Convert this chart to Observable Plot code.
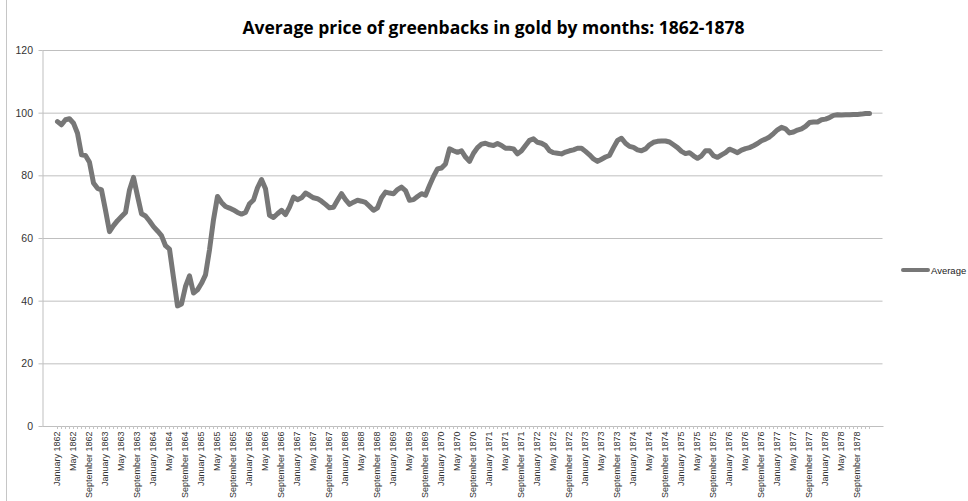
<!DOCTYPE html>
<html>
<head>
<meta charset="utf-8">
<script src="https://cdn.jsdelivr.net/npm/d3@7"></script>
<script src="https://cdn.jsdelivr.net/npm/@observablehq/plot@0.6"></script>
<style>
  body { margin: 0; background: #fff; }
  #wrap { position: relative; width: 968px; height: 501px; overflow: hidden; background: #fff; }
  #chart { position: absolute; left: 0; top: 0; }
  #title { position: absolute; left: 0; top: 15px; width: 987px; text-align: center;
           font: bold 17.5px "Open Sans", sans-serif; color: #000; white-space: nowrap; }
  #border { position: absolute; left: 6px; top: 0; width: 1px; height: 501px; background: #c6c6c6; }
  #legend { position: absolute; left: 901px; top: 262px; height: 16px; display: flex; align-items: center;
            font: 9.5px "Liberation Sans", sans-serif; color: #222; }
  #legend .sw { width: 29px; height: 4.5px; background: #777; border-radius: 2px; margin-right: 1px; }
</style>
</head>
<body>
<div id="wrap">
  <div id="border"></div>
  <div id="chart"></div>
  <div id="title">Average price of greenbacks in gold by months: 1862-1878</div>
  <div id="legend"><div class="sw"></div><span>Average</span></div>
</div>
<script>
const monthNames = ["January","February","March","April","May","June","July","August","September","October","November","December"];
const years = [1862,1863,1864,1865,1866,1867,1868,1869,1870,1871,1872,1873,1874,1875,1876,1877,1878];

const avg1862 = [97.3, 96.3, 97.9, 98.2, 96.8, 93.6, 86.7, 86.5, 84.3, 77.7, 76.0, 75.5];
const avg1863 = [69.0, 62.2, 64.1, 65.7, 67.0, 68.3, 75.5, 79.5, 73.6, 67.9, 67.2, 65.6];
const avg1864 = [63.8, 62.4, 60.9, 57.7, 56.6, 47.5, 38.5, 39.1, 44.7, 48.1, 42.6, 43.6];
const avg1865 = [45.7, 48.4, 56.4, 66.0, 73.4, 71.5, 70.2, 69.7, 69.1, 68.3, 67.8, 68.3];
const avg1866 = [71.1, 72.3, 76.2, 78.8, 75.9, 67.4, 66.7, 67.9, 69.0, 67.6, 70.0, 73.2];
const avg1867 = [72.4, 73.0, 74.5, 73.8, 73.0, 72.7, 71.9, 70.9, 69.8, 70.0, 72.2, 74.3];
const avg1868 = [72.4, 70.9, 71.6, 72.2, 71.9, 71.5, 70.3, 69.0, 69.8, 73.0, 74.8, 74.5];
const avg1869 = [74.3, 75.6, 76.4, 75.3, 72.2, 72.4, 73.4, 74.3, 73.8, 76.9, 79.8, 82.2];
const avg1870 = [82.5, 83.8, 88.6, 88.0, 87.5, 88.0, 86.0, 84.6, 87.2, 89.0, 90.1, 90.4];
const avg1871 = [89.9, 89.7, 90.3, 89.7, 88.8, 88.8, 88.6, 87.0, 88.0, 89.7, 91.3, 91.8];
const avg1872 = [90.7, 90.4, 89.7, 88.0, 87.4, 87.2, 87.0, 87.6, 88.0, 88.3, 88.8, 88.8];
const avg1873 = [87.8, 86.7, 85.4, 84.6, 85.3, 86.0, 86.5, 89.0, 91.3, 92.0, 90.4, 89.4];
const avg1874 = [89.1, 88.3, 88.0, 88.6, 89.9, 90.7, 91.0, 91.1, 91.1, 90.8, 89.9, 89.0];
const avg1875 = [87.8, 87.1, 87.4, 86.4, 85.6, 86.4, 88.0, 88.0, 86.4, 85.9, 86.7, 87.4];
const avg1876 = [88.5, 88.0, 87.4, 88.2, 88.7, 89.0, 89.6, 90.3, 91.2, 91.7, 92.4, 93.5];
const avg1877 = [94.7, 95.5, 95.0, 93.7, 94.0, 94.6, 95.0, 95.8, 97.0, 97.2, 97.2, 97.9];
const avg1878 = [98.1, 98.6, 99.3, 99.5, 99.4, 99.5, 99.5, 99.6, 99.6, 99.7, 99.9, 99.9];

const yTicks = [0, 20, 40, 60, 80, 100, 120];

const byYear = [avg1862, avg1863, avg1864, avg1865, avg1866, avg1867, avg1868, avg1869, avg1870,
                avg1871, avg1872, avg1873, avg1874, avg1875, avg1876, avg1877, avg1878];
const data = [];
years.forEach((yr, yi) => byYear[yi].forEach((v, m) => data.push({label: `${monthNames[m]} ${yr}`, value: v})));
const labels = data.map(d => d.label);
const shownLabels = labels.filter((d, i) => i % 4 === 0);

const chart = Plot.plot({
  width: 968,
  height: 501,
  marginLeft: 42.5,
  marginRight: 85.5,
  marginTop: 50,
  marginBottom: 75,
  style: { fontFamily: "Liberation Sans, sans-serif", background: "transparent", overflow: "visible" },
  x: { type: "point", domain: labels, padding: 0.5 },
  y: { domain: [0, 120] },
  marks: [
    Plot.gridY(yTicks.filter(d => d > 0), { stroke: "#bfbfbf", strokeOpacity: 1, strokeWidth: 1 }),
    Plot.frame({ anchor: "left", stroke: "#bfbfbf" }),
    Plot.frame({ anchor: "bottom", stroke: "#bfbfbf" }),
    Plot.axisY(yTicks, { tickSize: 4, tickPadding: 6, stroke: "#bfbfbf", fill: "#333", fontSize: 10.5, label: null }),
    Plot.axisX(labels, { tickSize: 3, tickFormat: () => "", stroke: "#c4c4c4", label: null }),
    Plot.axisX(shownLabels, { tickSize: 0, tickRotate: -90, tickPadding: 5, fill: "#333", fontSize: 9, label: null }),
    Plot.line(data, { x: "label", y: "value", stroke: "#777777", strokeWidth: 5, strokeLinejoin: "round", strokeLinecap: "round" })
  ]
});
document.getElementById("chart").appendChild(chart);
</script>
</body>
</html>
